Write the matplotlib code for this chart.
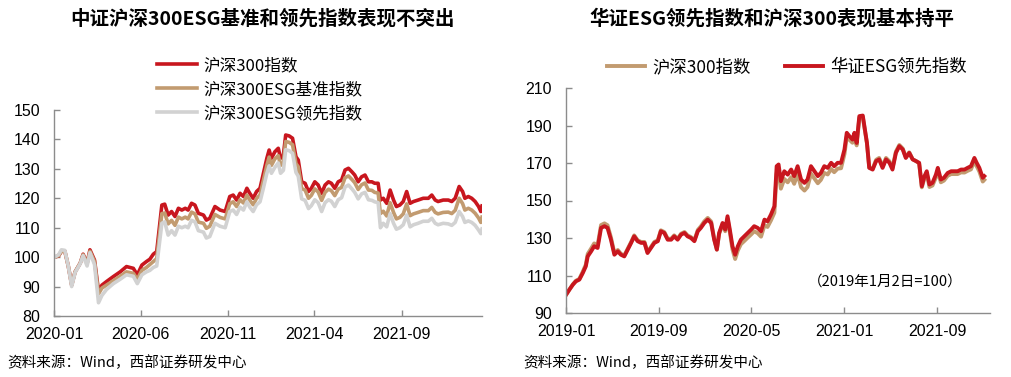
import matplotlib
matplotlib.use("Agg")
import matplotlib.pyplot as plt
import matplotlib.dates as mdates
import pandas as pd

# ---------------- Left panel data (2020-01-02 = 100) ----------------
left_base = "2020-01-01"
left_days = [1, 8, 13, 19, 25, 31, 37, 46, 51, 58, 63, 71, 78, 84, 92, 104, 116, 127, 139, 146,
             154, 162, 168, 174, 180, 189, 194, 200, 206, 212, 218, 224, 230, 235, 241, 247, 253,
             262, 267, 273, 282, 291, 300, 308, 314, 320, 326, 332, 338, 343, 349, 355, 361, 367,
             373, 377, 381, 387, 393, 397, 402, 406, 412, 418, 424, 428, 434, 440, 446, 451, 457,
             463, 469, 475, 481, 486, 492, 498, 504, 510, 516, 522, 527, 533, 539, 545, 551, 557,
             562, 568, 572, 577, 583, 589, 595, 600, 606, 612, 618, 624, 630, 638, 647, 656, 662,
             668, 673, 682, 691, 697, 703, 710, 716, 720, 726, 732, 738, 744, 748, 750]
hs300_left = [100.0, 100.4, 102.0, 102.0, 97.0, 90.5, 95.0, 98.0, 101.0, 98.0, 102.5, 99.0, 88.5,
              90.5, 91.7, 93.4, 95.0, 96.8, 96.2, 94.0, 97.3, 98.5, 99.3, 101.0, 101.9, 117.7,
              118.0, 114.3, 115.5, 113.8, 116.6, 116.0, 116.6, 116.0, 118.3, 117.7, 114.9, 114.3,
              112.6, 113.2, 117.2, 116.0, 115.5, 120.6, 121.1, 119.4, 121.7, 120.6, 123.4, 121.7,
              120.0, 122.3, 123.4, 128.5, 133.6, 136.4, 133.6, 135.8, 137.0, 133.6, 134.7, 141.5,
              141.2, 140.4, 134.1, 133.0, 125.6, 125.1, 122.3, 123.4, 125.6, 124.5, 121.7, 124.5,
              125.6, 125.1, 123.4, 125.6, 126.2, 129.6, 130.2, 129.0, 127.9, 125.6, 127.3, 127.9,
              125.6, 125.6, 125.1, 125.1, 119.4, 120.0, 118.3, 122.8, 119.4, 117.2, 117.7, 118.9,
              122.3, 118.3, 118.9, 119.4, 120.0, 120.0, 121.1, 119.4, 118.9, 119.4, 119.4, 118.9,
              120.0, 124.0, 122.3, 120.0, 120.6, 120.0, 118.9, 117.2, 115.5, 117.4]
esg_bench_left = [100.0, 100.5, 102.0, 102.0, 97.0, 90.5, 95.0, 98.0, 100.8, 97.8, 102.0, 98.5,
                  87.5, 89.5, 90.5, 92.0, 93.5, 95.0, 94.5, 92.5, 95.5, 96.5, 97.5, 98.5, 99.5,
                  114.8, 115.0, 111.3, 112.5, 110.8, 113.6, 113.0, 113.6, 113.0, 115.3, 114.7,
                  111.9, 111.5, 109.8, 110.5, 114.5, 113.5, 113.0, 118.2, 118.8, 117.2, 119.5,
                  118.4, 121.1, 119.4, 117.8, 120.0, 121.1, 126.2, 131.2, 134.0, 131.2, 133.4,
                  134.5, 131.2, 132.3, 139.3, 139.0, 138.2, 131.8, 130.7, 123.3, 122.8, 120.0,
                  121.0, 123.2, 122.1, 119.3, 122.0, 123.1, 122.6, 120.9, 123.1, 123.7, 127.0,
                  127.6, 126.4, 125.3, 123.0, 124.6, 125.2, 122.8, 122.7, 122.0, 121.8, 114.8,
                  115.6, 114.0, 118.5, 115.2, 113.0, 113.5, 114.7, 118.1, 114.1, 114.7, 115.2,
                  115.8, 115.8, 116.9, 115.2, 114.7, 115.2, 115.3, 114.8, 115.9, 120.0, 118.2,
                  116.0, 116.6, 116.0, 114.9, 113.3, 111.8, 113.6]
esg_lead_left = [100.0, 100.8, 102.5, 102.3, 97.0, 90.0, 94.8, 97.8, 100.5, 97.0, 101.5, 97.5,
                 84.5, 87.0, 89.0, 91.0, 92.5, 94.0, 93.5, 91.0, 94.0, 95.0, 95.5, 96.5, 97.0,
                 111.5, 112.0, 107.5, 109.0, 107.5, 110.5, 110.0, 110.5, 110.0, 112.5, 112.0,
                 109.0, 108.5, 106.5, 107.0, 111.5, 110.5, 110.0, 115.5, 116.0, 114.5, 117.0,
                 116.0, 118.8, 117.0, 115.5, 117.8, 118.8, 123.5, 128.5, 131.0, 128.5, 130.5,
                 132.0, 128.5, 129.5, 136.5, 136.2, 135.3, 128.8, 127.5, 119.8, 119.3, 116.5,
                 117.5, 119.5, 118.5, 115.5, 118.5, 119.5, 119.0, 117.2, 119.5, 120.2, 123.8,
                 124.5, 123.2, 122.0, 119.8, 121.5, 122.0, 119.5, 119.3, 118.8, 118.5, 110.0,
                 111.5, 110.3, 114.8, 111.5, 109.5, 110.0, 111.0, 114.3, 110.3, 111.0, 111.5,
                 112.2, 112.2, 113.2, 111.5, 111.0, 111.5, 111.3, 110.8, 111.8, 115.5, 113.8,
                 111.8, 112.3, 111.8, 110.8, 109.2, 108.0, 109.6]
left_ticks = ["2020-01-01", "2020-06-01", "2020-11-01", "2021-04-01", "2021-09-01"]
left_xmax = "2022-01-20"
left_yticks = [80, 90, 100, 110, 120, 130, 140, 150]
left_names = ["沪深300指数", "沪深300ESG基准指数", "沪深300ESG领先指数"]

# ---------------- Right panel data (2019-01-02 = 100) ----------------
right_base = "2019-01-01"
right_days = [1, 9, 18, 26, 35, 44, 52, 57, 66, 74, 83, 92, 101, 109, 118, 127, 136, 144, 153, 162,
              171, 179, 188, 197, 206, 214, 223, 232, 241, 249, 258, 267, 276, 284, 293, 302, 311,
              319, 328, 337, 346, 354, 363, 372, 381, 389, 396, 402, 411, 418, 424, 430, 437, 444,
              451, 459, 468, 477, 486, 494, 503, 512, 521, 529, 538, 547, 553, 558, 564, 573, 582,
              591, 599, 608, 617, 626, 634, 643, 652, 661, 669, 678, 687, 696, 704, 713, 722, 731,
              737, 744, 752, 757, 763, 770, 779, 786, 790, 796, 805, 814, 822, 831, 840, 849, 857,
              866, 875, 884, 892, 901, 910, 919, 927, 934, 941, 947, 954, 962, 971, 976, 984, 992,
              1002, 1011, 1019, 1028, 1037, 1046, 1054, 1063, 1072, 1078, 1085, 1094, 1098]
huazheng_esg = [100.0, 102.5, 105.1, 106.9, 107.8, 111.3, 114.9, 120.2, 122.9, 125.6, 124.7, 135.4,
                136.3, 135.4, 129.1, 121.1, 122.9, 121.1, 120.2, 123.8, 127.4, 130.9, 128.3, 127.4,
                127.4, 122.0, 124.7, 127.4, 128.3, 133.6, 132.7, 129.1, 129.1, 130.9, 129.1, 131.8,
                132.7, 130.9, 130.0, 128.3, 133.6, 135.4, 138.0, 139.8, 138.0, 129.1, 123.8, 132.7,
                138.0, 134.5, 141.6, 134.5, 125.6, 121.1, 125.6, 129.1, 130.9, 132.7, 134.5, 136.3,
                135.4, 133.6, 139.8, 138.9, 142.5, 146.9, 168.3, 169.2, 160.3, 165.6, 163.8, 166.5,
                163.0, 168.3, 161.2, 159.4, 161.2, 168.3, 165.6, 163.0, 164.7, 168.3, 167.4, 170.1,
                168.3, 170.1, 170.1, 177.2, 186.1, 184.3, 182.5, 186.1, 180.7, 195.0, 195.3, 186.1,
                180.7, 167.4, 166.5, 171.0, 171.9, 167.4, 171.9, 170.1, 166.5, 175.4, 179.0, 177.2,
                172.7, 175.4, 171.9, 171.0, 170.1, 157.6, 163.0, 165.6, 158.5, 159.4, 163.8, 167.4,
                161.2, 162.1, 164.7, 165.6, 165.6, 165.6, 166.5, 166.5, 167.4, 168.3, 172.7, 170.1,
                167.4, 162.1, 163.0]
hs300_right = [100.0, 102.5, 105.3, 107.2, 108.2, 112.0, 115.8, 121.5, 124.4, 127.1, 126.2, 136.9,
               137.8, 136.8, 130.3, 122.0, 123.6, 121.6, 120.7, 124.3, 127.9, 131.4, 128.8, 127.9,
               127.9, 122.5, 125.2, 127.9, 128.8, 134.1, 133.2, 129.6, 129.6, 131.4, 129.6, 132.3,
               133.2, 131.4, 130.5, 128.8, 134.3, 136.2, 138.9, 140.7, 138.8, 129.6, 123.8, 132.2,
               137.3, 133.6, 140.5, 133.2, 123.9, 118.8, 123.3, 126.7, 128.4, 130.2, 131.9, 133.6,
               132.6, 130.7, 136.8, 135.9, 139.4, 143.5, 164.5, 165.3, 156.3, 161.5, 159.7, 162.4,
               158.9, 164.2, 157.1, 155.3, 157.2, 164.3, 161.7, 159.2, 161.0, 164.7, 163.9, 166.8,
               165.1, 167.0, 167.2, 174.8, 184.0, 182.4, 180.8, 184.6, 179.4, 194.0, 194.5, 185.6,
               180.5, 167.6, 167.0, 171.7, 172.7, 168.2, 172.7, 170.9, 167.3, 176.1, 179.6, 177.7,
               173.1, 175.7, 172.0, 171.0, 169.8, 157.0, 162.0, 164.4, 157.2, 158.0, 162.3, 165.9,
               159.7, 160.6, 163.2, 164.1, 164.1, 164.1, 165.0, 164.9, 165.8, 166.6, 171.0, 168.3,
               165.5, 160.1, 161.0]
right_ticks = ["2019-01-01", "2019-09-01", "2020-05-01", "2021-01-01", "2021-09-01"]
right_xmax = "2022-01-18"
right_yticks = [90, 110, 130, 150, 170, 190, 210]
right_names = ["沪深300指数", "华证ESG领先指数"]

titles = ["中证沪深300ESG基准和领先指数表现不突出", "华证ESG领先指数和沪深300表现基本持平"]
source = "资料来源：Wind，西部证券研发中心"
note = "（2019年1月2日=100）"

RED = "#C8161E"
TAN = "#C29B70"
GRAY = "#D2D2D2"
SPINE = "#8C8C8C"
CJK = ["Noto Sans CJK SC", "DejaVu Sans"]
NUM = ["Liberation Sans", "DejaVu Sans"]

plt.rcParams["font.family"] = CJK

W, H = 1012, 377
fig = plt.figure(figsize=(W / 100, H / 100), dpi=100)


def to_dates(base, days):
    return pd.Timestamp(base) + pd.to_timedelta(days, unit="D")


def style_axes(ax, yticks, ticks, base, xmax):
    for s in ["top", "right"]:
        ax.spines[s].set_visible(False)
    for s in ["left", "bottom"]:
        ax.spines[s].set_color(SPINE)
        ax.spines[s].set_linewidth(1.0)
    ax.set_ylim(yticks[0], yticks[-1])
    ax.set_yticks(yticks)
    ax.set_xlim(pd.Timestamp(base), pd.Timestamp(xmax))
    ax.set_xticks(pd.to_datetime(ticks))
    ax.xaxis.set_major_formatter(mdates.DateFormatter("%Y-%m"))
    ax.tick_params(axis="both", direction="in", length=4, width=1, color=SPINE,
                   labelsize=11.5, labelcolor="black")
    ax.tick_params(axis="y", pad=10)
    ax.tick_params(axis="x", pad=8)
    for lab in ax.get_xticklabels() + ax.get_yticklabels():
        lab.set_family(NUM)


# Left panel
axL = fig.add_axes([54 / W, 1 - 316 / H, 428 / W, 206 / H])
dL = to_dates(left_base, left_days)
axL.plot(dL, hs300_left, color=RED, lw=2.6, label=left_names[0], solid_joinstyle="round")
axL.plot(dL, esg_bench_left, color=TAN, lw=2.6, label=left_names[1], solid_joinstyle="round")
axL.plot(dL, esg_lead_left, color=GRAY, lw=2.6, label=left_names[2], solid_joinstyle="round")
style_axes(axL, left_yticks, left_ticks, left_base, left_xmax)
fig.legend(handles=axL.get_lines(), loc="upper left", bbox_to_anchor=(157 / W, 1 - 57 / H),
           bbox_transform=fig.transFigure, frameon=False, fontsize=12, handlelength=2.4,
           handletextpad=0.4, labelspacing=0.42, borderaxespad=0, borderpad=0)

# Right panel
axR = fig.add_axes([566 / W, 1 - 313 / H, 424 / W, 225 / H])
dR = to_dates(right_base, right_days)
axR.plot(dR, hs300_right, color=TAN, lw=2.8, label=right_names[0], solid_joinstyle="round")
axR.plot(dR, huazheng_esg, color=RED, lw=2.8, label=right_names[1], solid_joinstyle="round")
style_axes(axR, right_yticks, right_ticks, right_base, right_xmax)
fig.legend(handles=axR.get_lines(), loc="center", bbox_to_anchor=(787 / W, 1 - 67 / H),
           bbox_transform=fig.transFigure, ncol=2, frameon=False, fontsize=12.5,
           handlelength=2.2, handletextpad=0.4, columnspacing=2.0, borderaxespad=0,
           borderpad=0)
fig.text(808 / W, 1 - 282 / H, note, fontsize=10.5, ha="left", va="center")

# Titles
fig.text(262 / W, 1 - 19 / H, titles[0], ha="center", va="center", fontsize=14,
         fontweight="bold")
fig.text(772 / W, 1 - 19 / H, titles[1], ha="center", va="center", fontsize=14,
         fontweight="bold")

# Sources
fig.text(7 / W, 1 - 363 / H, source, ha="left", va="center", fontsize=10.5)
fig.text(523 / W, 1 - 363 / H, source, ha="left", va="center", fontsize=10.5)

fig.savefig("out.png", dpi=100)
